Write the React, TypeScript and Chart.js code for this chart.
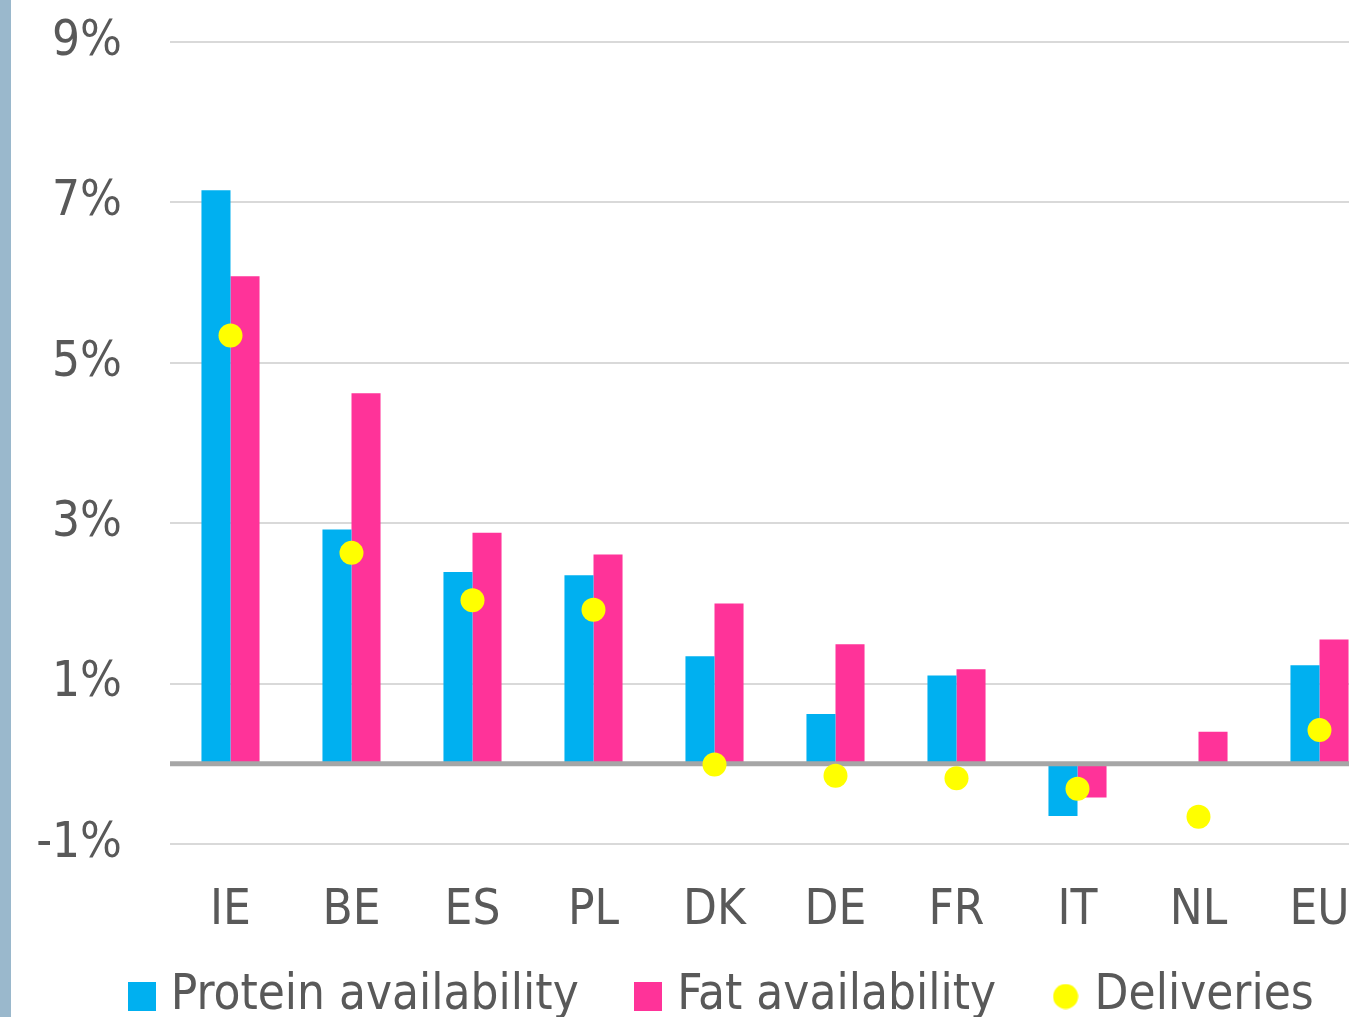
import React, { useEffect, useRef } from 'react';
import { Chart, registerables } from 'chart.js';

Chart.register(...registerables);

// ---- data ----
const categories = ['IE', 'BE', 'ES', 'PL', 'DK', 'DE', 'FR', 'IT', 'NL', 'EU'];
const proteinAvailability = [7.15, 2.92, 2.39, 2.35, 1.34, 0.62, 1.1, -0.65, 0, 1.23];
const fatAvailability = [6.08, 4.62, 2.88, 2.61, 2.0, 1.49, 1.18, -0.42, 0.4, 1.55];
const deliveries = [5.34, 2.63, 2.04, 1.92, -0.01, -0.15, -0.18, -0.31, -0.66, 0.42];
const yTicks = [-1, 1, 3, 5, 7, 9];
const seriesLabels = ['Protein availability', 'Fat availability', 'Deliveries'];

const FONT = '"Liberation Sans Narrow", "DejaVu Sans Condensed", "Liberation Sans", sans-serif';
const TEXT = '#595959';
const BLUE = '#00b0f0';
const PINK = '#ff3399';
const YELLOW = '#ffff00';

function makeIcon(kind: 'rect' | 'circle', color: string) {
  const c = document.createElement('canvas');
  if (kind === 'rect') {
    c.width = 28;
    c.height = 29;
    const ctx = c.getContext('2d')!;
    ctx.fillStyle = color;
    ctx.fillRect(0, 0, 28, 29);
  } else {
    c.width = 26;
    c.height = 26;
    const ctx = c.getContext('2d')!;
    ctx.fillStyle = color;
    ctx.beginPath();
    ctx.arc(13, 13, 12.5, 0, Math.PI * 2);
    ctx.fill();
  }
  return c;
}

// zero baseline drawn over the bars, under the delivery dots
const zeroLinePlugin = {
  id: 'zeroLine',
  beforeDatasetDraw(chart: any, args: any) {
    if (args.index !== 2) return;
    const y = chart.scales.y.getPixelForValue(0);
    const { left, right } = chart.chartArea;
    const ctx = chart.ctx;
    ctx.save();
    ctx.strokeStyle = '#a6a6a6';
    ctx.lineWidth = 5;
    ctx.beginPath();
    ctx.moveTo(left, y);
    ctx.lineTo(right, y);
    ctx.stroke();
    ctx.restore();
  },
};

// nudge the legend box (centre it like the original and pull it up)
const legendShiftPlugin = {
  id: 'legendShift',
  afterLayout(chart: any) {
    const lg = chart.legend;
    if (!lg) return;
    lg.left += 71;
    lg.top -= 37;
    lg.bottom -= 37;
  },
};

export default function App() {
  const ref = useRef<HTMLCanvasElement | null>(null);

  useEffect(() => {
    if (!ref.current) return;
    const icons = [makeIcon('rect', BLUE), makeIcon('rect', PINK), makeIcon('circle', YELLOW)];
    const chart = new Chart(ref.current, {
      type: 'bar',
      data: {
        labels: categories,
        datasets: [
          {
            type: 'bar',
            label: seriesLabels[0],
            data: proteinAvailability,
            backgroundColor: BLUE,
            categoryPercentage: 0.48,
            barPercentage: 1,
            order: 1,
          },
          {
            type: 'bar',
            label: seriesLabels[1],
            data: fatAvailability,
            backgroundColor: PINK,
            categoryPercentage: 0.48,
            barPercentage: 1,
            order: 1,
          },
          {
            type: 'line',
            label: seriesLabels[2],
            data: deliveries,
            showLine: false,
            pointRadius: 12,
            pointHoverRadius: 12,
            pointBackgroundColor: YELLOW,
            pointBorderWidth: 0,
            borderColor: YELLOW,
            backgroundColor: YELLOW,
            order: 0,
            clip: false,
          },
        ],
      } as any,
      options: {
        animation: false,
        responsive: false,
        devicePixelRatio: 1,
        events: [],
        layout: { autoPadding: false, padding: { left: 0, top: 42, right: 0, bottom: 8 } },
        scales: {
          x: {
            grid: { display: false, drawTicks: true, tickLength: 38 },
            border: { display: false },
            ticks: {
              font: { family: FONT, size: 49 },
              color: TEXT,
              padding: 0,
              maxRotation: 0,
              autoSkip: false,
            },
            afterFit: (scale: any) => {
              scale.height = 100;
            },
          },
          y: {
            min: -1,
            max: 9,
            border: { display: false },
            grid: {
              color: '#d9d9d9',
              lineWidth: 2,
              drawTicks: true,
              tickLength: 48,
              tickColor: 'rgba(0,0,0,0)',
            },
            afterBuildTicks: (scale: any) => {
              scale.ticks = yTicks.map((v) => ({ value: v }));
            },
            afterFit: (scale: any) => {
              scale.width = 170;
            },
            ticks: {
              font: { family: FONT, size: 49 },
              color: TEXT,
              padding: 0,
              autoSkip: false,
              callback: (v: any) => `${v}%`,
            },
          },
        },
        plugins: {
          tooltip: { enabled: false },
          legend: {
            position: 'bottom',
            labels: {
              font: { family: FONT, size: 49 },
              color: TEXT,
              usePointStyle: true,
              boxWidth: 9,
              padding: 65,
              generateLabels: (c: any) => {
                const items = (Chart.defaults.plugins.legend.labels as any).generateLabels(c);
                items.forEach((it: any) => {
                  it.pointStyle = icons[it.datasetIndex];
                });
                return items.sort((a: any, b: any) => a.datasetIndex - b.datasetIndex);
              },
            },
          },
        },
      } as any,
      plugins: [zeroLinePlugin, legendShiftPlugin],
    });
    return () => chart.destroy();
  }, []);

  return (
    <div
      style={{
        position: 'fixed',
        left: 0,
        top: 0,
        width: 1349,
        height: 1017,
        overflow: 'hidden',
        background: '#ffffff',
      }}
    >
      <canvas ref={ref} width={1380} height={1076} style={{ position: 'absolute', left: 0, top: 0 }} />
      <div
        style={{
          position: 'absolute',
          left: 0,
          top: 0,
          width: 11,
          height: '100%',
          background: '#9ab8cc',
        }}
      />
    </div>
  );
}
